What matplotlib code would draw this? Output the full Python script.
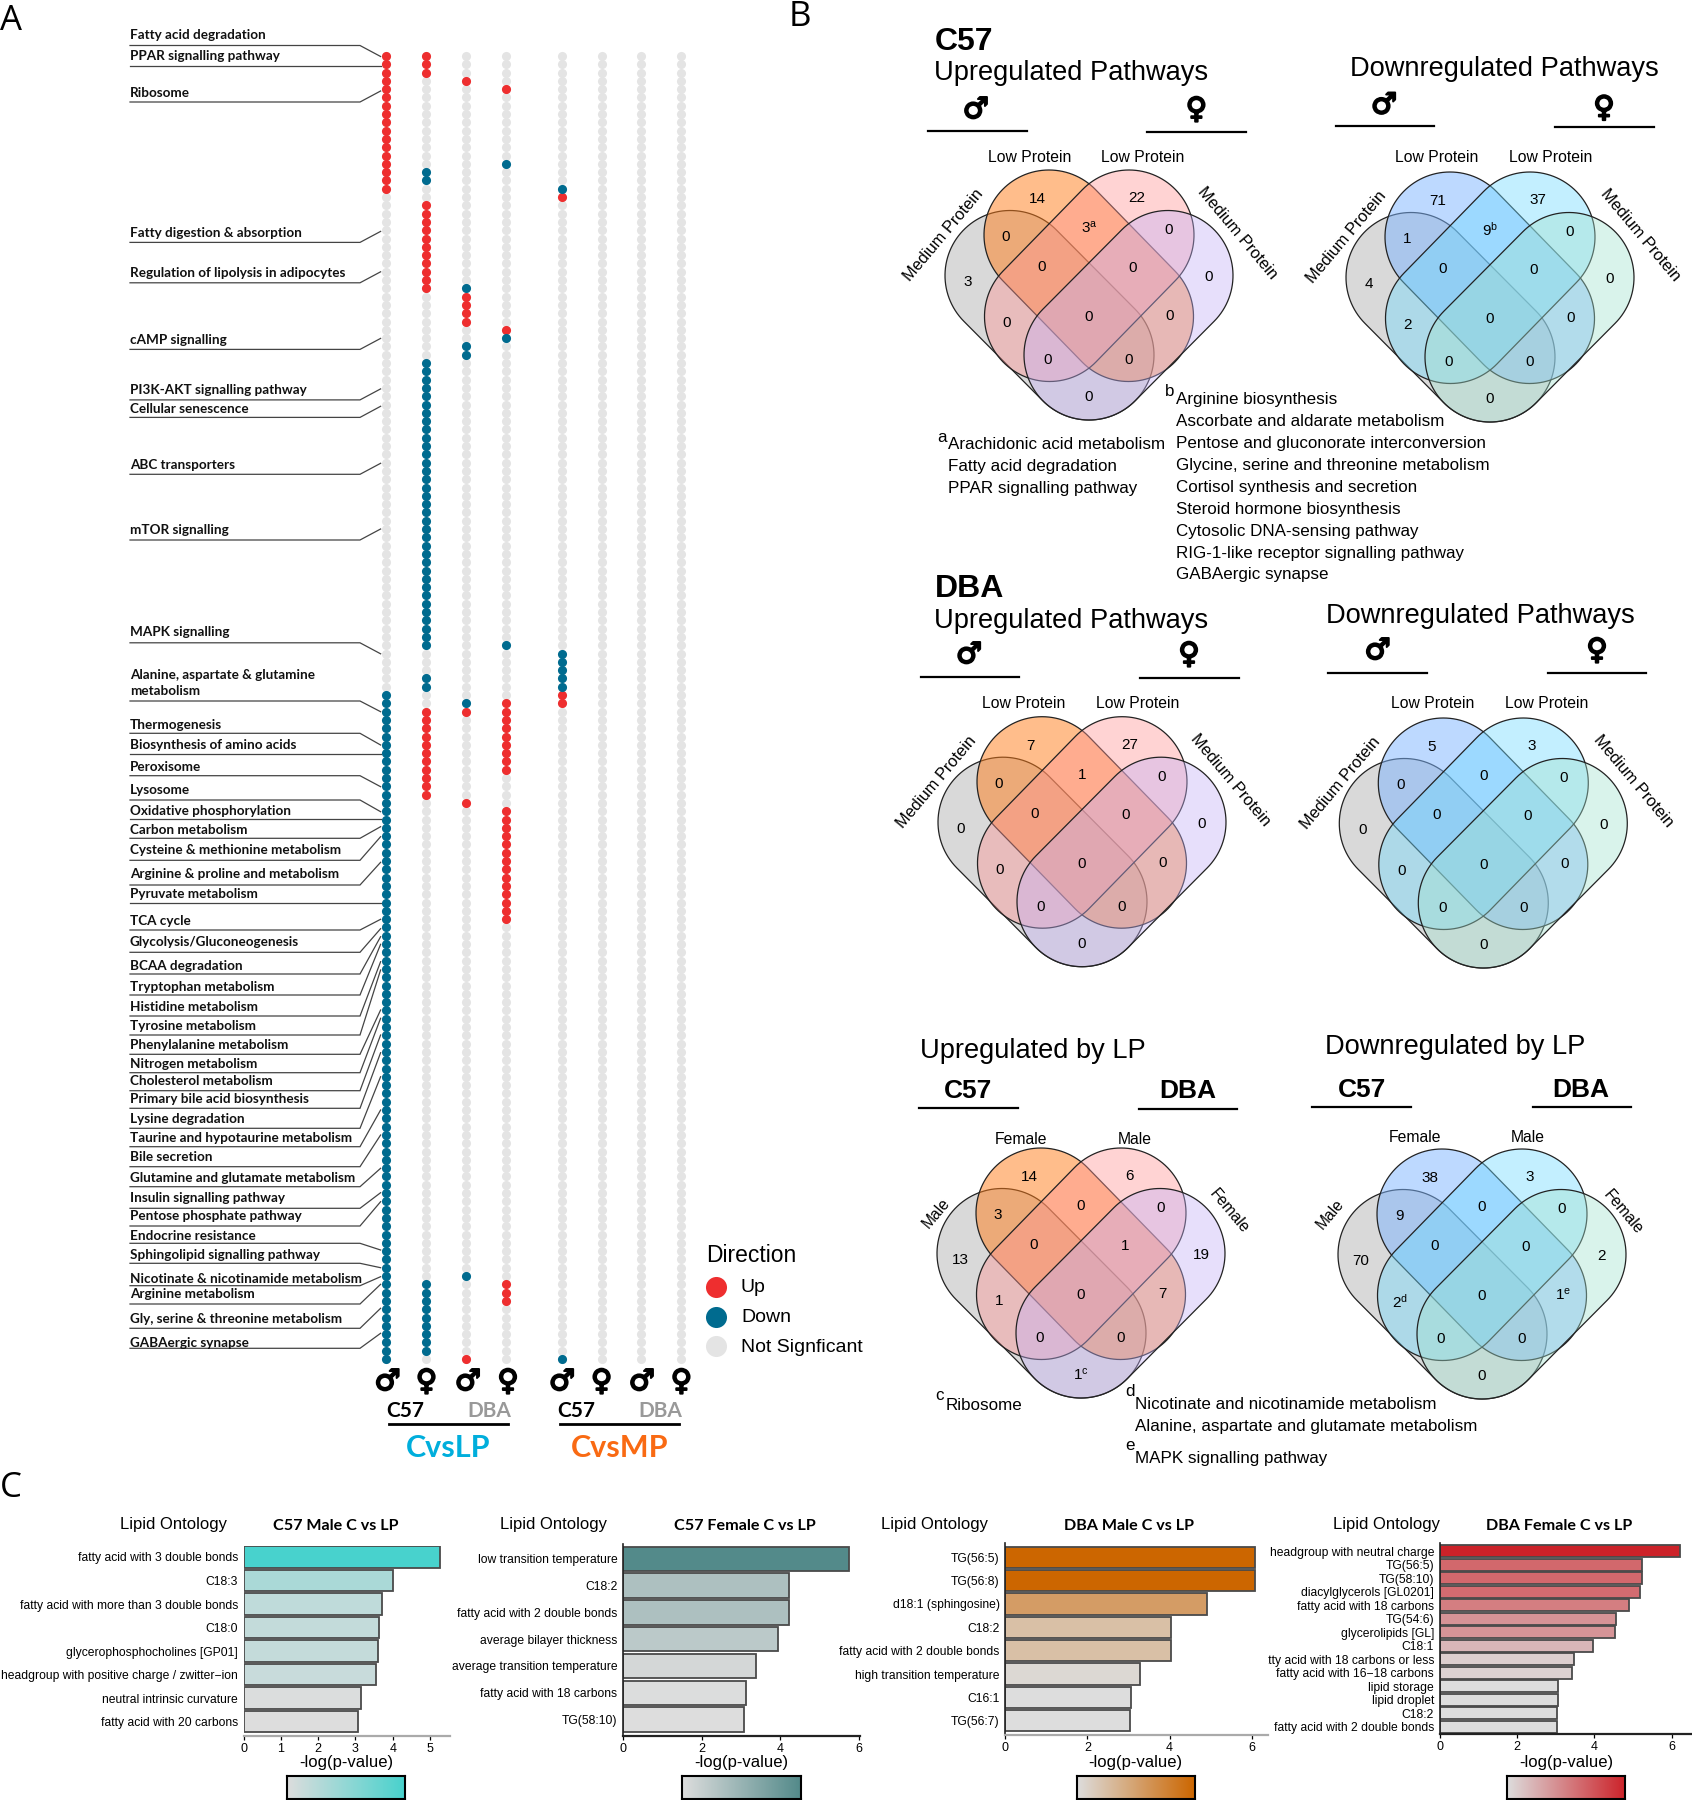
#!/usr/bin/env python3
import matplotlib

matplotlib.use("Agg")
import matplotlib.patheffects as path_effects
import matplotlib.pyplot as plt
import numpy as np
from matplotlib.colors import LinearSegmentedColormap, Normalize
from matplotlib.patches import Polygon
from matplotlib.transforms import Bbox

WIDTH = 1692
HEIGHT = 1800
OUTPUT_PATH = "out.png"

plt.rcParams["font.family"] = ["Liberation Sans", "DejaVu Sans"]
plt.rcParams["mathtext.default"] = "regular"

# panel A: pathways, rows hit by each column as (first row, last row) runs
NUM_ROWS = 158
COLUMN_NAMES = [
    "C57 M LP", "C57 F LP", "DBA M LP", "DBA F LP",
    "C57 M MP", "C57 F MP", "DBA M MP", "DBA F MP",
]
UP_RUNS = [
    [(0, 16)],
    [(0, 2), (18, 28), (79, 89)],
    [(3, 3), (29, 32), (79, 79), (90, 90), (157, 157)],
    [(4, 4), (33, 33), (78, 86), (91, 104), (148, 150)],
    [(17, 17), (77, 78)],
    [],
    [],
    [],
]
DOWN_RUNS = [
    [(77, 157)],
    [(14, 15), (37, 71), (75, 76), (148, 156)],
    [(28, 28), (35, 36), (78, 78), (147, 147)],
    [(13, 13), (34, 34), (71, 71)],
    [(16, 16), (72, 76), (157, 157)],
    [],
    [],
    [],
]
COLUMN_GAPS = [0.0, 1.0, 2.0, 3.0, 4.39, 5.39, 6.39, 7.39]

PATHWAY_LABELS = [
    "Fatty acid degradation", "PPAR signalling pathway", "Ribosome",
    "Fatty digestion & absorption", "Regulation of lipolysis in adipocytes",
    "cAMP signalling", "PI3K-AKT signalling pathway", "Cellular senescence",
    "ABC transporters", "mTOR signalling", "MAPK signalling",
    "Alanine, aspartate & glutamine\nmetabolism", "Thermogenesis",
    "Biosynthesis of amino acids", "Peroxisome", "Lysosome",
    "Oxidative phosphorylation", "Carbon metabolism",
    "Cysteine & methionine metabolism", "Arginine & proline and metabolism",
    "Pyruvate metabolism", "TCA cycle", "Glycolysis/Gluconeogenesis",
    "BCAA degradation", "Tryptophan metabolism", "Histidine metabolism",
    "Tyrosine metabolism", "Phenylalanine metabolism", "Nitrogen metabolism",
    "Cholesterol metabolism", "Primary bile acid biosynthesis",
    "Lysine degradation", "Taurine and hypotaurine metabolism",
    "Bile secretion", "Glutamine and glutamate metabolism",
    "Insulin signalling pathway", "Pentose phosphate pathway",
    "Endocrine resistance", "Sphingolipid signalling pathway",
    "Nicotinate & nicotinamide metabolism", "Arginine metabolism",
    "Gly, serine & threonine metabolism", "GABAergic synapse",
]
LABEL_TEXT_Y = [
    35.4, 56, 93.2, 232.8, 273.2, 339.8, 390.3, 409, 464.6, 530.3, 632.2, 683,
    724.9, 744.8, 767.2, 790.5, 811, 829.9, 850.2, 874, 894, 921.4, 941.8,
    965.7, 986.6, 1007, 1026.4, 1045.3, 1063.7, 1081, 1099, 1119.4, 1137.8,
    1156.7, 1177.6, 1198.5, 1216.4, 1235.8, 1254.7, 1279, 1294.5, 1318.9, 1343.3,
]
LABEL_LINE_Y = [
    45.5, 66, 102, 242.4, 282.8, 349.4, 399.9, 417.4, 474.3, 540, 642.8, 701,
    733.3, 754, 775.7, 800, 819.3, 838.3, 860.3, 885, 902.7, 930, 952.3, 974,
    995, 1016, 1035, 1054.3, 1072.7, 1090.7, 1108.3, 1128.3, 1146.7, 1166.7,
    1186.7, 1208.3, 1226, 1243.3, 1263.3, 1285.7, 1304, 1328.3, 1348.3,
]
LABEL_END_Y = [
    56.5, 66, 91, 231.4, 271.8, 338.4, 388.9, 406.3, 463.3, 529, 653.8, 711.7,
    745, 754, 786.7, 811.7, 819.3, 826.7, 836.7, 862.3, 902.7, 919.3, 928.7,
    936.7, 944.3, 961.7, 970, 1010, 1018.3, 1035, 1052.7, 1076.7, 1110, 1135,
    1168.3, 1192.7, 1201.7, 1250, 1267.7, 1276.7, 1284.3, 1308.3, 1333.3,
]

# panel B: region counts, same region order in every diagram:
# top left, top right, far left, far right, left cross, top cross, right cross,
# mid left, mid right, low left, centre, low right, foot left, foot right, foot
C57_UP_COUNTS = ["14", "22", "3", "0", "0", "3$^{a}$", "0", "0", "0", "0", "0", "0", "0", "0", "0"]
C57_DOWN_COUNTS = ["71", "37", "4", "0", "1", "9$^{b}$", "0", "0", "0", "2", "0", "0", "0", "0", "0"]
DBA_UP_COUNTS = ["7", "27", "0", "0", "0", "1", "0", "0", "0", "0", "0", "0", "0", "0", "0"]
DBA_DOWN_COUNTS = ["5", "3", "0", "0", "0", "0", "0", "0", "0", "0", "0", "0", "0", "0", "0"]
LP_UP_COUNTS = ["14", "6", "13", "19", "3", "0", "0", "0", "1", "1", "0", "7", "0", "0", "1$^{c}$"]
LP_DOWN_COUNTS = ["38", "3", "70", "2", "9", "0", "0", "0", "0", "2$^{d}$", "0", "1$^{e}$", "0", "0", "0"]

NOTE_A = ["Arachidonic acid metabolism", "Fatty acid degradation", "PPAR signalling pathway"]
NOTE_B = [
    "Arginine biosynthesis", "Ascorbate and aldarate metabolism",
    "Pentose and gluconorate interconversion",
    "Glycine, serine and threonine metabolism", "Cortisol synthesis and secretion",
    "Steroid hormone biosynthesis", "Cytosolic DNA-sensing pathway",
    "RIG-1-like receptor signalling pathway", "GABAergic synapse",
]
NOTE_D = ["Nicotinate and nicotinamide metabolism", "Alanine, aspartate and glutamate metabolism"]

# panel C: lipid ontology bars
C57_MALE_TERMS = [
    "fatty acid with 3 double bonds", "C18:3", "fatty acid with more than 3 double bonds",
    "C18:0", "glycerophosphocholines [GP01]", "headgroup with positive charge / zwitter\u2212ion",
    "neutral intrinsic curvature", "fatty acid with 20 carbons",
]
C57_MALE_VALUES = [5.28, 4.02, 3.70, 3.62, 3.61, 3.54, 3.15, 3.08]
C57_FEMALE_TERMS = [
    "low transition temperature", "C18:2", "fatty acid with 2 double bonds",
    "average bilayer thickness", "average transition temperature",
    "fatty acid with 18 carbons", "TG(58:10)",
]
C57_FEMALE_VALUES = [5.76, 4.23, 4.23, 3.94, 3.38, 3.12, 3.07]
DBA_MALE_TERMS = [
    "TG(56:5)", "TG(56:8)", "d18:1 (sphingosine)", "C18:2",
    "fatty acid with 2 double bonds", "high transition temperature", "C16:1", "TG(56:7)",
]
DBA_MALE_VALUES = [6.09, 6.09, 4.91, 4.03, 4.03, 3.28, 3.05, 3.03]
DBA_FEMALE_TERMS = [
    "headgroup with neutral charge", "TG(56:5)", "TG(58:10)", "diacylglycerols [GL0201]",
    "fatty acid with 18 carbons", "TG(54:6)", "glycerolipids [GL]", "C18:1",
    "fatty acid with 18 carbons or less", "fatty acid with 16\u221218 carbons",
    "lipid storage", "lipid droplet", "C18:2", "fatty acid with 2 double bonds",
]
DBA_FEMALE_VALUES = [6.22, 5.23, 5.22, 5.17, 4.89, 4.56, 4.53, 3.95, 3.48, 3.41, 3.06, 3.06, 3.04, 3.04]

RED = "#EE2E2F"
BLUE = "#006B8F"
LIGHT_GREY = "#E4E4E4"
SEX_FONT = ["DejaVu Sans"]
LABEL_FONT = ["Lato", "DejaVu Sans"]

# drawn in this order: grey lobe, top left, top right, right lobe
WARM_FILLS = [("#B5B5B5", 0.50), ("#FF7D19", 0.50), ("#FF9696", 0.42), ("#C5B1F7", 0.40)]
COOL_FILLS = [("#B5B5B5", 0.50), ("#7DB5FF", 0.50), ("#70DBFF", 0.42), ("#A2E1CF", 0.40)]
# capsule end centres relative to the bottom centre of a diagram
CAPSULES = [
    ((-79, -79.5), (0, 0)),
    ((-40, -120), (39.5, -38.5)),
    ((40, -120), (-39.5, -38.5)),
    ((79, -79.5), (0, 0)),
]
CAPSULE_RADIUS = 65
COUNT_OFFSETS = [
    (-52, -156), (48, -157), (-121, -73), (120, -78), (-83, -118), (0, -127),
    (80, -125), (-47, -88), (44, -87), (-82, -32), (0, -38), (81, -39),
    (-41, 5), (40, 5), (0, 42),
]


def px_axes(fig, left, top, right, bottom):
    return fig.add_axes([
        left / WIDTH,
        1 - bottom / HEIGHT,
        (right - left) / WIDTH,
        (bottom - top) / HEIGHT,
    ])


def capsule_outline(start, end, radius):
    start = np.array(start, dtype=float)
    end = np.array(end, dtype=float)
    angle = np.arctan2(*(end - start)[::-1])
    arc_a = np.linspace(angle + np.pi / 2, angle + 3 * np.pi / 2, 60)
    arc_b = np.linspace(angle - np.pi / 2, angle + np.pi / 2, 60)
    first = start + radius * np.column_stack((np.cos(arc_a), np.sin(arc_a)))
    second = end + radius * np.column_stack((np.cos(arc_b), np.sin(arc_b)))
    return np.vstack((first, second))


def expand_runs(runs):
    rows = []
    for first, last in runs:
        rows.extend(range(first, last + 1))
    return rows


def sex_symbol(ax, x, y, symbol, size=21):
    text = ax.text(x, y, symbol, family=SEX_FONT, weight="bold", fontsize=size, ha="center", va="center")
    text.set_path_effects([path_effects.withStroke(linewidth=1.4, foreground="black")])


def draw_dots(fig):
    ax = px_axes(fig, 386.3, 56, 681.4, 1359)
    ax.set_xlim(0, 7.39)
    ax.set_ylim(NUM_ROWS - 1, 0)
    ax.axis("off")
    for pos, up_runs, down_runs in zip(COLUMN_GAPS, UP_RUNS, DOWN_RUNS):
        ax.scatter([pos] * NUM_ROWS, range(NUM_ROWS), s=43, color=LIGHT_GREY, linewidths=0, clip_on=False)
        ax.scatter([pos] * len(expand_runs(up_runs)), expand_runs(up_runs), s=43, color=RED,
                   linewidths=0, clip_on=False, zorder=3)
        ax.scatter([pos] * len(expand_runs(down_runs)), expand_runs(down_runs), s=43, color=BLUE,
                   linewidths=0, clip_on=False, zorder=3)


def draw_leaders(ax):
    for name, text_y, line_y, end_y in zip(PATHWAY_LABELS, LABEL_TEXT_Y, LABEL_LINE_Y, LABEL_END_Y):
        ax.text(130, text_y, name, family=LABEL_FONT, weight="bold", fontsize=9.7,
                va="center", ha="left", color="#111111", linespacing=1.45)
        ax.plot([130, 360, 380.6], [line_y, line_y, end_y], color="#444444", lw=0.9, solid_joinstyle="miter")


def draw_dot_footer(ax):
    for x, symbol in zip([387.5, 426.5, 467.9, 508, 562, 601.6, 641.8, 681.4], "\u2642\u2640\u2642\u2640\u2642\u2640\u2642\u2640"):
        sex_symbol(ax, x, 1382, symbol)
    for x, name, color in [(405.3, "C57", "black"), (489, "DBA", "#999999"), (576.3, "C57", "black"), (660, "DBA", "#999999")]:
        ax.text(x, 1411, name, family=LABEL_FONT, weight="bold", fontsize=15, color=color, ha="center", va="center")
    ax.plot([389, 508], [1424.4, 1424.4], color="black", lw=2)
    ax.plot([560, 679], [1424.4, 1424.4], color="black", lw=2)
    ax.text(448.3, 1448, "CvsLP", family=LABEL_FONT, weight="bold", fontsize=22, color="#00AEDC", ha="center", va="center")
    ax.text(619.4, 1448, "CvsMP", family=LABEL_FONT, weight="bold", fontsize=22, color="#F96A13", ha="center", va="center")

    ax.text(706, 1256, "Direction", fontsize=16.5, va="center")
    for y, text_y, color, name in [(1287, 1287, RED, "Up"), (1317, 1318, BLUE, "Down"), (1346, 1348, LIGHT_GREY, "Not Signficant")]:
        ax.scatter([716.4], [y], s=230, color=color, linewidths=0)
        ax.text(741, text_y, name, fontsize=14, va="center")


def draw_venn(ax, centre, counts, fills, left_label, right_label, side_label, far_label,
              label_dx=(0, 0), side_dx=0, label_dy=-198, side_size=11.3):
    cx, cy = centre
    for (start, end), (color, alpha) in zip(CAPSULES, fills):
        start_xy = (start[0] + cx, start[1] + cy)
        end_xy = (end[0] + cx, end[1] + cy)
        outline = capsule_outline(start_xy, end_xy, CAPSULE_RADIUS)
        ax.add_patch(Polygon(outline, closed=True, facecolor=color, alpha=alpha, edgecolor="none"))
        ax.add_patch(Polygon(outline, closed=True, facecolor="none", edgecolor="#222222", lw=0.9))
    for (dx, dy), count in zip(COUNT_OFFSETS, counts):
        ax.text(cx + dx, cy + dy, count, fontsize=11, ha="center", va="center")
    ax.text(cx + label_dx[0], cy + label_dy, left_label, fontsize=11.3, ha="center", va="center")
    ax.text(cx + label_dx[1], cy + label_dy, right_label, fontsize=11.3, ha="center", va="center")
    ax.text(cx - 145 + side_dx, cy - 120, side_label, fontsize=side_size, rotation=50, rotation_mode="anchor",
            ha="center", va="center")
    ax.text(cx + 148 + side_dx, cy - 122, far_label, fontsize=side_size, rotation=-50, rotation_mode="anchor",
            ha="center", va="center")


def draw_underline(ax, x0, x1, y):
    ax.plot([x0, x1], [y, y], color="black", lw=1.6)


def draw_venn_panel(ax):
    head = 19.6
    ax.text(934.4, 42.5, "C57", fontsize=23, weight="bold", va="center")
    ax.text(934.4, 73.5, "Upregulated Pathways", fontsize=head, va="center")
    ax.text(1350, 68.5, "Downregulated Pathways", fontsize=head, va="center")
    ax.text(934.4, 589, "DBA", fontsize=23, weight="bold", va="center")
    ax.text(934.4, 620.5, "Upregulated Pathways", fontsize=head, va="center")
    ax.text(1326, 616, "Downregulated Pathways", fontsize=head, va="center")
    ax.text(920, 1051.5, "Upregulated by LP", fontsize=head, va="center")
    ax.text(1325.4, 1047, "Downregulated by LP", fontsize=head, va="center")

    for x, y, symbol in [
        (975.8, 110, "\u2642"), (1196.4, 110, "\u2640"), (1384, 105.5, "\u2642"), (1604, 108.5, "\u2640"),
        (969, 655, "\u2642"), (1189, 655, "\u2640"), (1377.6, 651, "\u2642"), (1597, 651, "\u2640"),
    ]:
        sex_symbol(ax, x, y, symbol)

    for x0, x1, y in [
        (927.6, 1026.6, 131), (1147, 1245.6, 132), (1335.7, 1434, 126.3), (1554.8, 1653.7, 127),
        (920.7, 1019.4, 677), (1140, 1239, 678), (1328, 1427, 672.7), (1547.5, 1646.3, 673),
        (919.4, 1018.3, 1108.3), (1139, 1237.3, 1109), (1312.4, 1411.3, 1106.7), (1532.5, 1631, 1107.3),
    ]:
        draw_underline(ax, x0, x1, y)

    for x, y, name in [(968, 1091.5, "C57"), (1188, 1091.5, "DBA"), (1361.6, 1090, "C57"), (1581, 1090, "DBA")]:
        ax.text(x, y, name, fontsize=19, weight="bold", ha="center", va="center")

    draw_venn(ax, (1089, 355), C57_UP_COUNTS, WARM_FILLS, "Low Protein", "Low Protein", "Medium Protein", "Medium Protein", (-59, 54), side_size=11.8)
    draw_venn(ax, (1490, 357), C57_DOWN_COUNTS, COOL_FILLS, "Low Protein", "Low Protein", "Medium Protein", "Medium Protein", (-53, 61), 2, -200, 11.8)
    draw_venn(ax, (1082, 901.7), DBA_UP_COUNTS, WARM_FILLS, "Low Protein", "Low Protein", "Medium Protein", "Medium Protein", (-58, 56), side_size=11.8)
    draw_venn(ax, (1483.3, 903), DBA_DOWN_COUNTS, COOL_FILLS, "Low Protein", "Low Protein", "Medium Protein", "Medium Protein", (-51, 63), 2, -200, 11.8)
    draw_venn(ax, (1081, 1333), LP_UP_COUNTS, WARM_FILLS, "Female", "Male", "Male", "Female", (-60, 54), label_dy=-194)
    draw_venn(ax, (1482, 1334), LP_DOWN_COUNTS, COOL_FILLS, "Female", "Male", "Male", "Female", (-67, 46), -7, -197)

    note_size = 12.25
    ax.text(937.5, 438, "a", fontsize=note_size, va="center")
    for i, line in enumerate(NOTE_A):
        ax.text(948.4, 444.5 + i * 21.9, line, fontsize=note_size, va="center")
    ax.text(1165, 391, "b", fontsize=note_size, va="center")
    for i, line in enumerate(NOTE_B):
        ax.text(1176, 399.8 + i * 21.9, line, fontsize=note_size, va="center")
    ax.text(935.5, 1395, "c", fontsize=note_size, va="center")
    ax.text(945.8, 1406, "Ribosome", fontsize=note_size, va="center")
    ax.text(1125, 1392, "d", fontsize=note_size, va="center")
    ax.text(1135.3, 1404.3, NOTE_D[0], fontsize=note_size, va="center")
    ax.text(1135.3, 1426.7, NOTE_D[1], fontsize=note_size, va="center")
    ax.text(1125, 1445, "e", fontsize=note_size, va="center")
    ax.text(1135.3, 1458.7, "MAPK signalling pathway", fontsize=note_size, va="center")


def draw_bars(fig, terms, values, box, xmax, ticks, first_bar, last_bar, bar_h, high_color, spine_color, left_spine):
    left, top, right, bottom = box
    ax = px_axes(fig, left, top, right, bottom)
    pitch = (last_bar - first_bar) / (len(terms) - 1)
    cmap = LinearSegmentedColormap.from_list("lipid", ["#DDDDDD", high_color])
    norm = Normalize(min(values), max(values))
    rows = np.arange(len(terms))
    # light bars stay paler than a straight ramp
    ax.barh(rows, values, height=bar_h / pitch, color=cmap(norm(values) ** 1.25), edgecolor="#4A4A4A", linewidth=1.3)
    ax.set_ylim((bottom - first_bar) / pitch, (top - first_bar) / pitch)
    ax.set_xlim(0, xmax)
    ax.set_xticks(ticks)
    ax.set_yticks(rows)
    ax.set_yticklabels(terms, fontsize=8.75)
    ax.tick_params(axis="y", length=0, pad=4)
    ax.tick_params(axis="x", length=3, width=0.9, labelsize=9, pad=2)
    ax.patch.set_alpha(0)
    for name in ["top", "right"]:
        ax.spines[name].set_visible(False)
    ax.spines["bottom"].set_color(spine_color)
    ax.spines["bottom"].set_linewidth(1.6)
    ax.spines["left"].set_visible(left_spine)
    ax.spines["left"].set_color("#222222")
    ax.spines["left"].set_linewidth(1.2)
    return ax, cmap


def draw_colorbar(fig, left, right, cmap):
    ax = px_axes(fig, left, 1775.5, right, 1799)
    ax.imshow(np.linspace(0, 1, 256)[None, :], aspect="auto", cmap=cmap)
    ax.set_xticks([])
    ax.set_yticks([])
    for spine in ax.spines.values():
        spine.set_linewidth(1.5)


def draw_lipid_panel(fig, base):
    panels = [
        (C57_MALE_TERMS, C57_MALE_VALUES, (243.5, 1546, 449.8, 1735.7), 5.53, [0, 1, 2, 3, 4, 5], 1557, 1721.7, 21.5,
         "#48D2CD", "#AAAAAA", False, (287.4, 405.4), 346.7, 173.9, 336, "C57 Male C vs LP"),
        (C57_FEMALE_TERMS, C57_FEMALE_VALUES, (623, 1544, 859.7, 1735.7), 6.02, [0, 2, 4, 6], 1558.8, 1719.5, 24.3,
         "#538A8A", "#222222", True, (682.4, 800.9), 741.6, 553, 745, "C57 Female C vs LP"),
        (DBA_MALE_TERMS, DBA_MALE_VALUES, (1005.2, 1543, 1267.8, 1735), 6.39, [0, 2, 4, 6], 1557.2, 1720.8, 21.3,
         "#CC6600", "#AAAAAA", True, (1077, 1194.8), 1135.7, 934.3, 1129.3, "DBA Male C vs LP"),
        (DBA_FEMALE_TERMS, DBA_FEMALE_VALUES, (1439.7, 1543, 1692, 1734.3), 6.52, [0, 2, 4, 6], 1551.2, 1726.7, 12.3,
         "#CC2229", "#222222", True, (1506.8, 1625), 1566, 1386.5, 1559, "DBA Female C vs LP"),
    ]
    for terms, values, box, xmax, ticks, first_bar, last_bar, bar_h, high, spine, left_spine, cbar, xlab, lipid_x, title_x, title in panels:
        ax, cmap = draw_bars(fig, terms, values, box, xmax, ticks, first_bar, last_bar, bar_h, high, spine, left_spine)
        draw_colorbar(fig, cbar[0], cbar[1], cmap)
        base.text(xlab, 1762.5, "-log(p-value)", fontsize=12, ha="center", va="center")
        base.text(lipid_x, 1525, "Lipid Ontology", fontsize=12, ha="center", va="center")
        base.text(title_x, 1525.7, title, family=LABEL_FONT, weight="bold", fontsize=11.6, ha="center", va="center")
        if terms is DBA_FEMALE_TERMS:
            # the long label runs under the neighbouring panel in the source
            for tick in ax.get_yticklabels():
                tick.set_clip_on(True)
                tick.set_clip_box(Bbox.from_extents(1268, 0, WIDTH, HEIGHT))


def main():
    fig = plt.figure(figsize=(WIDTH / 100, HEIGHT / 100), dpi=100)
    fig.patch.set_facecolor("white")
    base = fig.add_axes([0, 0, 1, 1])
    base.set_xlim(0, WIDTH)
    base.set_ylim(HEIGHT, 0)
    base.axis("off")

    for x, y, letter in [(0, 21, "A"), (789, 17, "B"), (0, 1488, "C")]:
        base.text(x, y, letter, family=["Open Sans"], fontsize=25, va="center", ha="left")

    draw_leaders(base)
    draw_dots(fig)
    draw_dot_footer(base)
    draw_venn_panel(base)
    draw_lipid_panel(fig, base)

    fig.savefig(OUTPUT_PATH, dpi=100)
    plt.close(fig)


if __name__ == "__main__":
    main()
